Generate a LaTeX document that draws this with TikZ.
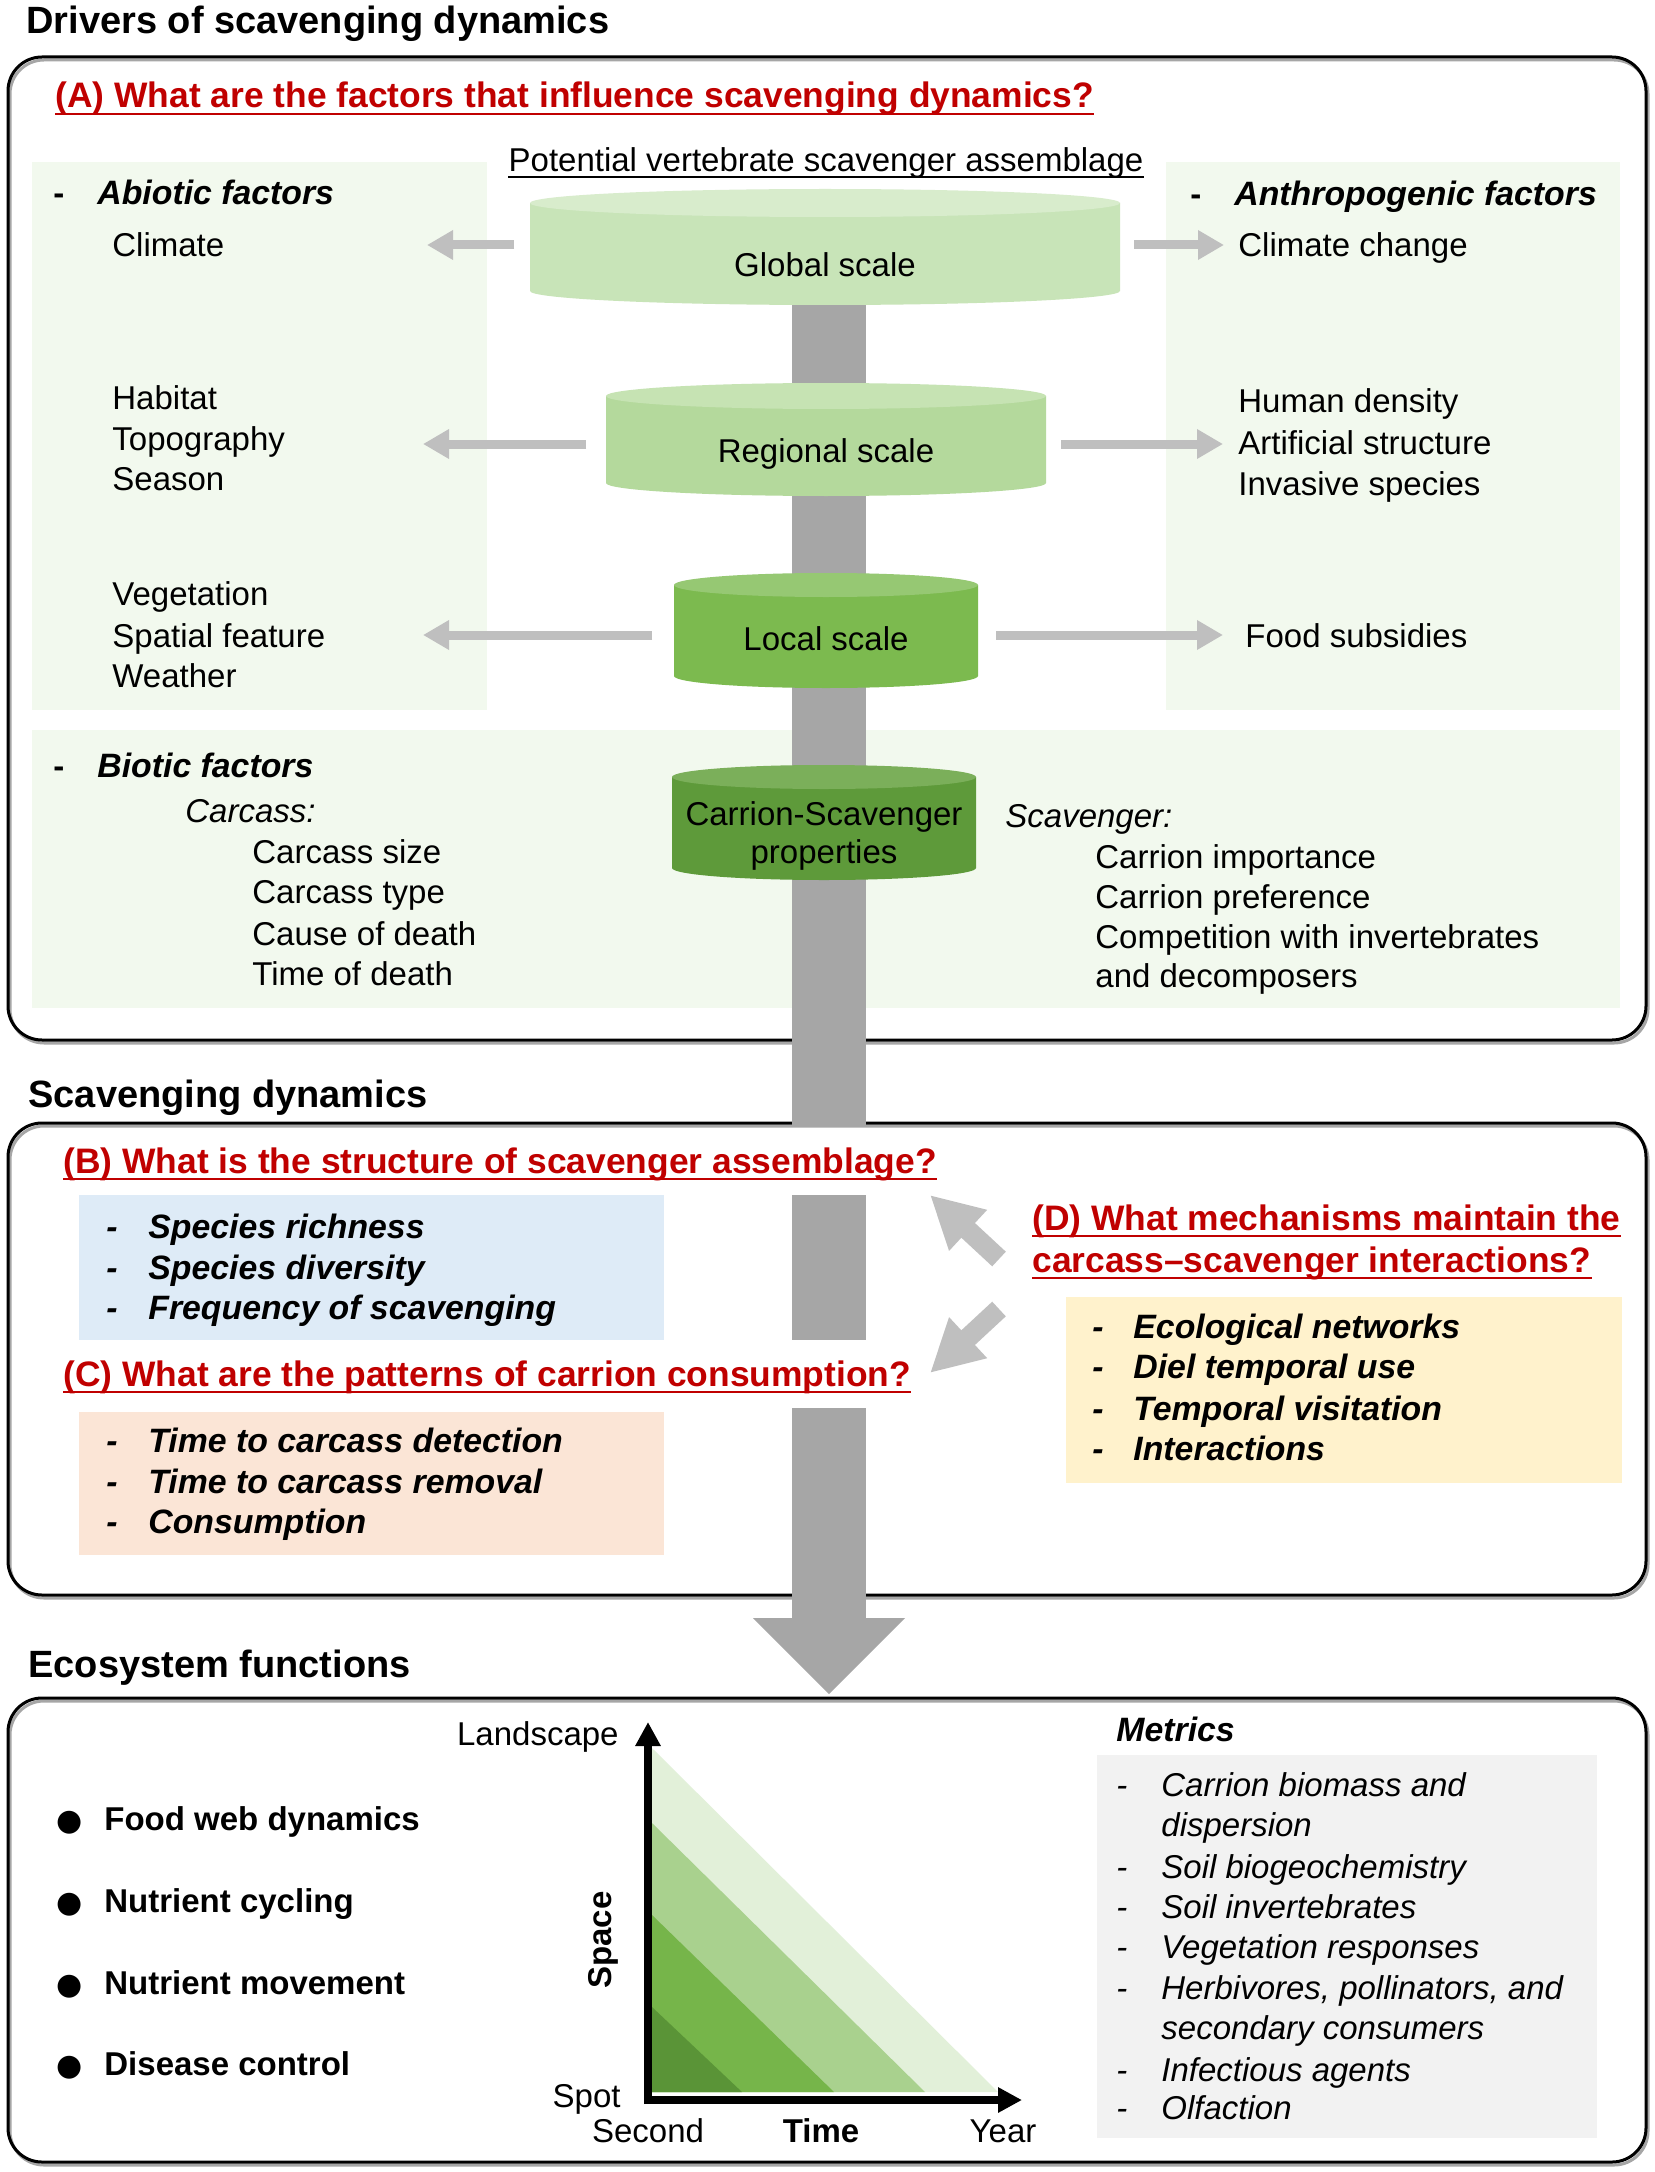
\documentclass[tikz,border=0pt]{standalone}
\usepackage{fontspec}
\setmainfont{Liberation Sans}
\newfontfamily\dejavu{DejaVu Sans}
\usetikzlibrary{arrows.meta,calc}
\definecolor{qred}{HTML}{C00000}
\definecolor{panelgreen}{HTML}{F2F9EE}
\definecolor{qblue}{HTML}{DEEBF7}
\definecolor{qorange}{HTML}{FBE5D6}
\definecolor{qyellow}{HTML}{FFF2CC}
\definecolor{qgraybox}{HTML}{F2F2F2}
\definecolor{bargray}{HTML}{A6A6A6}
\definecolor{arrgray}{HTML}{BFBFBF}
\definecolor{gside}{HTML}{C8E4B8}
\definecolor{gtop}{HTML}{D8ECCC}
\definecolor{rside}{HTML}{B4D99C}
\definecolor{rtop}{HTML}{C6E3B3}
\definecolor{lside}{HTML}{7CBA4F}
\definecolor{ltop}{HTML}{96C873}
\definecolor{cside}{HTML}{5E9A3A}
\definecolor{ctop}{HTML}{7BAF5A}
\definecolor{tri1}{HTML}{E2F0D9}
\definecolor{tri2}{HTML}{A9D18E}
\definecolor{tri3}{HTML}{76B54A}
\definecolor{tri4}{HTML}{5A9437}
\newcommand{\fbody}{\fontsize{16.5}{19.8}\selectfont}
\newcommand{\qcyl}[7]{%
  \fill[#6] (#1-#4,#2) -- (#1-#4,#3) arc[start angle=180,end angle=0,x radius=#4,y radius=#5] -- (#1+#4,#2) -- cycle;
  \fill[#7] (#1,#2) ellipse[x radius=#4,y radius=#5];
}
\newcommand{\qul}[2]{\draw[#2] ($(#1.base west)+(0,6)$) -- ($(#1.base east)+(0,6)$);}
\begin{document}
\begin{tikzpicture}[x=0.5pt,y=-0.5pt,
  txt/.style={inner sep=0pt,anchor=base west,font=\fbody},
  txtc/.style={inner sep=0pt,anchor=base,font=\fbody},
  txte/.style={inner sep=0pt,anchor=base east,font=\fbody},
  bd/.style={inner sep=0pt,anchor=base west,font=\fbody\bfseries},
  itx/.style={inner sep=0pt,anchor=base west,font=\fbody\itshape},
  ttl/.style={inner sep=0pt,anchor=base west,font=\fontsize{19}{23}\selectfont\bfseries},
  qtitle/.style={inner sep=0pt,anchor=base west,text=qred,font=\fontsize{17.7}{21}\selectfont\bfseries},
  bi/.style={inner sep=0pt,anchor=base west,font=\fontsize{16.9}{20}\selectfont\bfseries\itshape},
  frame/.style={line width=1.5pt,rounded corners=17pt},
  shadowframe/.style={line width=1.5pt,rounded corners=17pt,draw=black!35},
  sidearrow/.style={draw=arrgray,line width=4.5pt,-{Triangle[width=14pt,length=13pt]}},
  diagarrow/.style={draw=arrgray,line width=10pt,-{Triangle[width=26pt,length=26pt]}},
  axis/.style={line width=4pt,-{Triangle[width=12pt,length=12pt]}},
  redline/.style={qred,line width=1.3pt},
  blackline/.style={black,line width=1pt},
]
\useasboundingbox (0,0) rectangle (1654,2172);
\fill[white] (0,0) rectangle (1654,2172);

% frames
\draw[shadowframe] (10,60) rectangle (1648,1043);
\draw[shadowframe] (10,1126) rectangle (1648,1598);
\draw[shadowframe] (10,1701) rectangle (1648,2165);
\draw[frame] (8,57) rectangle (1646,1040);
\draw[frame] (8,1123) rectangle (1646,1595);
\draw[frame] (8,1698) rectangle (1646,2162);

% panels
\fill[panelgreen] (32,162) rectangle (487,710);
\fill[panelgreen] (1166,162) rectangle (1620,710);
\fill[panelgreen] (32,730) rectangle (1620,1008);
\fill[qblue] (79,1195) rectangle (664,1340);
\fill[qorange] (79,1412) rectangle (664,1555);
\fill[qyellow] (1066,1297) rectangle (1622,1483);
\fill[qgraybox] (1097,1755) rectangle (1597,2138);

% central bar
\fill[bargray] (792,291) rectangle (866,1125);
\fill[bargray] (792,1195) rectangle (866,1340);
\fill[bargray] (792,1408) rectangle (866,1619);
\fill[bargray] (753,1618) -- (905,1618) -- (829,1694) -- cycle;

% cylinders
\qcyl{825}{203}{291}{295}{14}{gside}{gtop}
\qcyl{826}{396}{483}{220}{13}{rside}{rtop}
\qcyl{826}{585}{676}{152}{12}{lside}{ltop}
\qcyl{824}{777}{868}{152}{12}{cside}{ctop}

\node[txtc] (glob) at (825,277) {Global scale};
\node[txtc] (reg) at (826,462) {Regional scale};
\node[txtc] (loc) at (826,650) {Local scale};
\node[txtc] (car1) at (824,825) {Carrion-Scavenger};
\node[txtc] (car2) at (824,863) {properties};

% side arrows
\coordinate (gL1) at (514,245); \coordinate (gL2) at (427,245);
\coordinate (gR1) at (1134,245); \coordinate (gR2) at (1224,245);
\coordinate (rL1) at (586,444); \coordinate (rL2) at (423,444);
\coordinate (rR1) at (1061,444); \coordinate (rR2) at (1223,444);
\coordinate (lL1) at (652,635); \coordinate (lL2) at (423,635);
\coordinate (lR1) at (996,635); \coordinate (lR2) at (1223,635);
\draw[sidearrow] (gL1) -- (gL2);
\draw[sidearrow] (gR1) -- (gR2);
\draw[sidearrow] (rL1) -- (rL2);
\draw[sidearrow] (rR1) -- (rR2);
\draw[sidearrow] (lL1) -- (lL2);
\draw[sidearrow] (lR1) -- (lR2);

% diagonal arrows
\coordinate (dU1) at (999,1259); \coordinate (dU2) at (930,1195);
\coordinate (dD1) at (999,1309); \coordinate (dD2) at (930,1373);
\draw[diagarrow] (dU1) -- (dU2);
\draw[diagarrow] (dD1) -- (dD2);

% section titles
\node[ttl] (s1) at (26,34) {Drivers of scavenging dynamics};
\node[ttl] (s2) at (28,1107) {Scavenging dynamics};
\node[ttl] (s3) at (28,1677) {Ecosystem functions};

% red titles
\node[qtitle] (tA) at (55,108) {(A) What are the factors that influence scavenging dynamics?};
\qul{tA}{redline}
\node[qtitle] (tB) at (63,1173) {(B) What is the structure of scavenger assemblage?};
\qul{tB}{redline}
\node[qtitle] (tC) at (63,1386) {(C) What are the patterns of carrion consumption?};
\qul{tC}{redline}
\node[qtitle] (tD1) at (1032,1230) {(D) What mechanisms maintain the};
\qul{tD1}{redline}
\node[qtitle] (tD2) at (1032,1272) {carcass–scavenger interactions?};
\qul{tD2}{redline}

% potential label
\node[txtc] (pot) at (826,172) {Potential vertebrate scavenger assemblage};
\draw[blackline] ($(pot.base west)+(0,5)$) -- ($(pot.base east)+(0,5)$);

% left panel
\node[bd] (dabio) at (53,205) {-};
\node[bi] (abio) at (97,205) {Abiotic factors};
\node[txt] (l1) at (112,257) {Climate};
\node[txt] (l2) at (112,409) {Habitat};
\node[txt] (l3) at (112,450) {Topography};
\node[txt] (l4) at (112,490) {Season};
\node[txt] (l5) at (112,605) {Vegetation};
\node[txt] (l6) at (112,647) {Spatial feature};
\node[txt] (l7) at (112,687) {Weather};

% right panel
\node[bd] (danth) at (1190,206) {-};
\node[bi] (anth) at (1234,206) {Anthropogenic factors};
\node[txt] (r1) at (1238,257) {Climate change};
\node[txt] (r2) at (1238,413) {Human density};
\node[txt] (r3) at (1238,454) {Artificial structure};
\node[txt] (r4) at (1238,495) {Invasive species};
\node[txt] (r5) at (1245,647) {Food subsidies};

% biotic
\node[bd] (dbio) at (53,777) {-};
\node[bi] (bio) at (97,777) {Biotic factors};
\node[itx] (carc) at (185,822) {Carcass:};
\node[txt] (b1) at (252,863) {Carcass size};
\node[txt] (b2) at (252,903) {Carcass type};
\node[txt] (b3) at (252,945) {Cause of death};
\node[txt] (b4) at (252,985) {Time of death};
\node[itx] (scav) at (1005,827) {Scavenger:};
\node[txt] (c1) at (1095,868) {Carrion importance};
\node[txt] (c2) at (1095,908) {Carrion preference};
\node[txt] (c3) at (1095,948) {Competition with invertebrates};
\node[txt] (c4) at (1095,987) {and decomposers};

% box B items
\foreach \y/\t [count=\i] in {1238/Species richness,1279/Species diversity,1319/Frequency of scavenging}{
  \node[bi] (bd\i) at (106,\y) {-};
  \node[bi] (bt\i) at (148,\y) {\t};
}
% box C items
\foreach \y/\t [count=\i] in {1452/Time to carcass detection,1493/Time to carcass removal,1533/Consumption}{
  \node[bi] (cd\i) at (106,\y) {-};
  \node[bi] (ct\i) at (148,\y) {\t};
}
% box D items
\foreach \y/\t [count=\i] in {1338/Ecological networks,1378/Diel temporal use,1420/Temporal visitation,1460/Interactions}{
  \node[bi] (dd\i) at (1092,\y) {-};
  \node[bi] (dt\i) at (1133,\y) {\t};
}

% ecosystem functions
\foreach \y/\t [count=\i] in {1830/Food web dynamics,1912/Nutrient cycling,1994/Nutrient movement,2075/Disease control}{
  \node[inner sep=0pt,anchor=base,font=\dejavu\fontsize{15}{18}\selectfont] (eb\i) at (70,\y) {●};
  \node[bd] (et\i) at (104,\y) {\t};
}

% chart
\fill[tri1] (652,1748) -- (652,2092) -- (998,2092) -- cycle;
\fill[tri2] (652,1823) -- (652,2092) -- (925,2092) -- cycle;
\fill[tri3] (652,1915) -- (652,2092) -- (834,2092) -- cycle;
\fill[tri4] (652,2007) -- (652,2092) -- (742,2092) -- cycle;
\coordinate (O1) at (648,2104); \coordinate (Ytop) at (648,1722);
\coordinate (O2) at (644,2100); \coordinate (Xend) at (1022,2100);
\draw[axis] (O1) -- (Ytop);
\draw[axis] (O2) -- (Xend);
\node[txte] (land) at (619,1745) {Landscape};
\node[txte] (spot) at (621,2107) {Spot};
\node[txtc] (sec) at (648,2142) {Second};
\node[inner sep=0pt,anchor=base,font=\fbody\bfseries] (time) at (821,2142) {Time};
\node[txtc] (year) at (1003,2142) {Year};
\node[inner sep=0pt,rotate=90,font=\fbody\bfseries] (space) at (603,1940) {Space};

% metrics
\node[bi] (met) at (1116,1741) {Metrics};
\foreach \y/\t/\d [count=\i] in {1796/Carrion biomass and/-,1836/dispersion/,1878/Soil biogeochemistry/-,1918/Soil invertebrates/-,1958/Vegetation responses/-,1999/{Herbivores, pollinators, and}/-,2039/secondary consumers/,2081/Infectious agents/-,2119/Olfaction/-}{
  \node[itx] (md\i) at (1116,\y) {\d};
  \node[itx] (mt\i) at (1161,\y) {\t};
}
\end{tikzpicture}
\end{document}
